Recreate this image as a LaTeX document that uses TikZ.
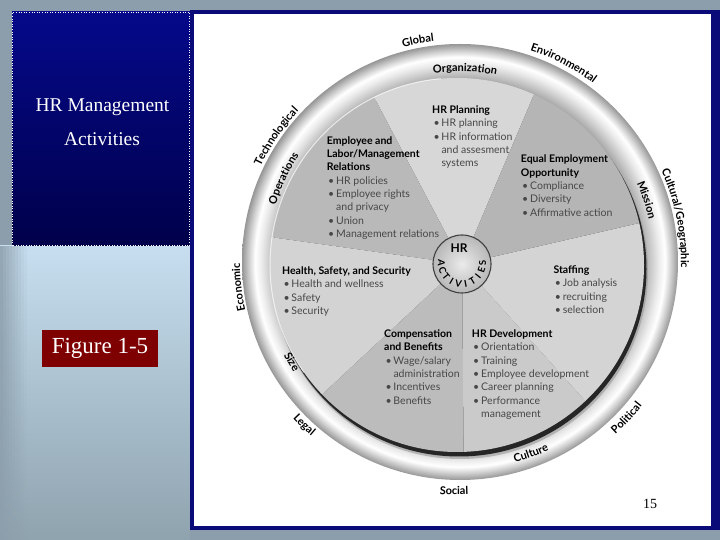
\documentclass[tikz,border=0pt]{standalone}
\usepackage{fontspec}
\setmainfont{Lato}
\newfontfamily\serifface{Liberation Serif}
\usetikzlibrary{decorations.text}
\definecolor{slidegrey}{HTML}{8C9EAB}
\definecolor{navy}{HTML}{0A0A78}
\definecolor{boxtop}{HTML}{05098A}
\definecolor{boxbot}{HTML}{00004A}
\definecolor{lbtop}{HTML}{C6DEEF}
\definecolor{lbbot}{HTML}{8FA3AE}
\definecolor{figred}{HTML}{7F0000}
\definecolor{rgA}{HTML}{AAAAAA}
\definecolor{rgB}{HTML}{C8C8C8}
\definecolor{rgC}{HTML}{ECECEC}
\definecolor{rgD}{HTML}{FFFFFF}
\definecolor{rgE}{HTML}{D0D0D0}
\definecolor{rgF}{HTML}{969696}
\definecolor{sHRP}{HTML}{D7D7D7}
\definecolor{sEmp}{HTML}{B9B9B9}
\definecolor{sEEO}{HTML}{B5B5B5}
\definecolor{sStaff}{HTML}{D4D4D4}
\definecolor{sDev}{HTML}{CACACA}
\definecolor{sComp}{HTML}{BCBCBC}
\definecolor{sHealth}{HTML}{D3D3D3}
\pgfdeclareradialshading{ringshade}{\pgfpoint{0bp}{0bp}}{color(0bp)=(rgA); color(21.0bp)=(rgA); color(21.8bp)=(rgB); color(22.8bp)=(rgC); color(23.5bp)=(rgD); color(24.2bp)=(rgE); color(25bp)=(rgF); color(50bp)=(rgF)}
\newcommand\hd[1]{\textcolor{black}{\bfseries #1}}
\newcommand\bul{\hspace*{1.3pt}\makebox[8pt][l]{\textbullet}}
\newcommand\cnt{\hspace*{9.3pt}}
\newcommand\ringfont{\fontsize{11}{12}\selectfont\bfseries}
\tikzset{
  ringtext/.style={decorate, decoration={text along path, text align=center, text={|\ringfont|#1}}},
  blk/.style={anchor=north west, inner sep=0pt, align=left, font=\fontsize{10.5}{13.3}\selectfont, text=black!72},
  titletext/.style={font=\serifface\fontsize{19.5}{22}\selectfont, text=white, anchor=base}
}
\newcommand\cwlab[3]{\path[ringtext={#3}] ([shift={(#1+40:#2)}]C) arc[start angle=#1+40, end angle=#1-40, radius=#2];}
\newcommand\ccwlab[3]{\path[ringtext={#3}] ([shift={(#1-40:#2)}]C) arc[start angle=#1-40, end angle=#1+40, radius=#2];}
\begin{document}
\begin{tikzpicture}[x=1pt,y=1pt]
\useasboundingbox (0,0) rectangle (720,540);
% slide background
\fill[slidegrey] (0,0) rectangle (720,540);
\shade[top color=lbtop, bottom color=lbbot] (0,0) rectangle (190,294);
\foreach \i/\o in {0/0.85,1/0.75,2/0.65,3/0.55,4/0.45,5/0.35,6/0.25,7/0.15,8/0.07}
  \fill[slidegrey, opacity=\o] (\i*3,0) rectangle ({\i*3+3},294);
% title box
\shade[top color=boxtop, bottom color=boxbot] (12,294) rectangle (190,528);
\draw[white, dotted, line width=0.6pt] (12.5,294.5) rectangle (189.5,527.5);
\node[titletext] (t1) at (102.5,428) {HR Management};
\node[titletext] (t2) at (102,394) {Activities};
% figure label
\node[fill=figred, text=white, font=\serifface\fontsize{23}{26}\selectfont, minimum width=116pt, minimum height=37pt, inner sep=0pt] (fig) at (100,191.5) {Figure 1-5};
% white panel
\fill[navy] (190,10) rectangle (720,530);
\fill[white] (194,14) rectangle (711,526);
\node[font=\serifface\fontsize{14}{16}\selectfont, anchor=base] (pg) at (650,31) {15};
% wheel
\coordinate (C) at (460,278);
\coordinate (P) at (457,275);
\coordinate (H) at (462,276);
\shade[shading=ringshade] (C) circle (218);
\fill[black!40, opacity=0.6] ([shift={(3,-6)}]P) circle (188);
\fill[black!85] ([shift={(2,-4)}]P) circle (187.5);
\begin{scope}
  \clip (P) circle (187);
  \fill[sHRP] (H) -- ++(67:300) arc[start angle=67, end angle=117.8, radius=300] -- cycle;
  \fill[sEmp] (H) -- ++(117.8:300) arc[start angle=117.8, end angle=172, radius=300] -- cycle;
  \fill[sHealth] (H) -- ++(172:300) arc[start angle=172, end angle=223, radius=300] -- cycle;
  \fill[sComp] (H) -- ++(223:300) arc[start angle=223, end angle=270.5, radius=300] -- cycle;
  \fill[sDev] (H) -- ++(270.5:300) arc[start angle=270.5, end angle=312, radius=300] -- cycle;
  \fill[sStaff] (H) -- ++(312:300) arc[start angle=312, end angle=373, radius=300] -- cycle;
  \fill[sEEO] (H) -- ++(13:300) arc[start angle=13, end angle=67, radius=300] -- cycle;
\end{scope}
\draw[white, line width=1pt, opacity=0.7] ([shift={(95:187)}]P) arc[start angle=95, end angle=215, radius=187];
% centre disc
\shade[inner color=white!92!black, outer color=black!28] (H) circle (29);
\draw[black!75, line width=1.1pt] (H) circle (29);
\node[font=\fontsize{12}{13}\selectfont\bfseries] (hr) at (459,292) {HR};
\foreach \ch [count=\i from 0] in {A,C,T,I,V,I,T,I,E,S} {
  \pgfmathsetmacro\ang{178+\i*20.5}
  \node[font=\fontsize{9.5}{10}\selectfont\bfseries, rotate=\ang+90, inner sep=0pt] (act\i) at ([shift={(\ang:20.5)}]H) {\ch};
}
% slice texts
\node[blk] (hrp) at (432,436.0) {\strut\hd{HR Planning}\\ \bul HR planning\\ \bul HR information\\ \cnt and assesment\\ \cnt systems};
\node[blk] (emp) at (326.7,405.3) {\strut\hd{Employee and}\\ \hd{Labor/Management}\\ \hd{Relations}\\ \bul HR policies\\ \bul Employee rights\\ \cnt and privacy\\ \bul Union\\ \bul Management relations};
\node[blk] (eeo) at (520.7,386.6) {\strut\hd{Equal Employment}\\ \hd{Opportunity}\\ \bul Compliance\\ \bul Diversity\\ \bul Affirmative action};
\node[blk] (stf) at (553.3,276.0) {\strut\hd{Staffing}\\ \bul Job analysis\\ \bul recruiting\\ \bul selection};
\node[blk] (hss) at (282,275.0) {\strut\hd{Health, Safety, and Security}\\ \bul Health and wellness\\ \bul Safety\\ \bul Security};
\node[blk] (cmp) at (384,212.0) {\strut\hd{Compensation}\\ \hd{and Benefits}\\ \bul Wage/salary\\ \cnt administration\\ \bul Incentives\\ \bul Benefits};
\node[blk] (dev) at (471.7,212.0) {\strut\hd{HR Development}\\ \bul Orientation\\ \bul Training\\ \bul Employee development\\ \bul Career planning\\ \bul Performance\\ \cnt management};
% ring labels (outer)
\cwlab{100.8}{222}{Global}
\cwlab{62.5}{223}{Environmental}
\cwlab{11.4}{221}{Cultural/Geographic}
\cwlab{186.5}{220}{Economic}
\cwlab{145.7}{221}{Technological}
\ccwlab{-43.1}{232}{Political}
\ccwlab{-91.5}{233}{Social}
\ccwlab{-133.7}{229}{Legal}
% ring labels (inner band)
\cwlab{88.5}{190.5}{Organization}
\cwlab{18.4}{193.5}{Mission}
\cwlab{154.7}{193}{Operations}
\ccwlab{-69.7}{208}{Culture}
\ccwlab{-149.3}{199.5}{Size}
\end{tikzpicture}
\end{document}
